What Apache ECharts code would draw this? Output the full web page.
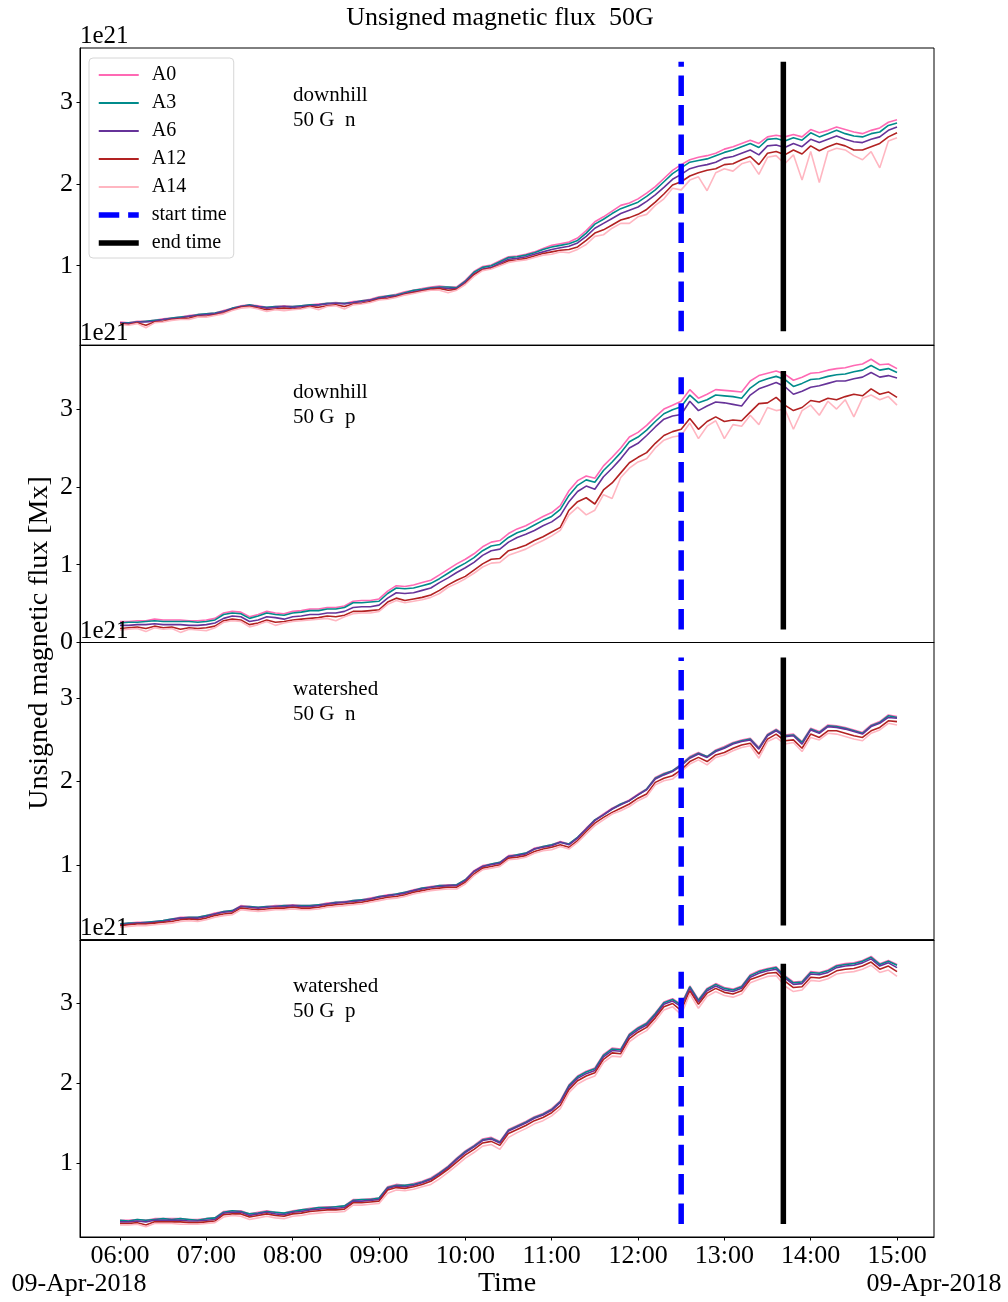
<!DOCTYPE html>
<html>
<head>
<meta charset="utf-8">
<script src="https://cdn.jsdelivr.net/npm/echarts@6/dist/echarts.min.js"></script>
<style>
  html, body { margin: 0; padding: 0; background: #fff; }
  #chart { width: 1008px; height: 1302px; }
</style>
</head>
<body>
<div id="chart"></div>
<script>
// ---- Data: unsigned magnetic flux (units of 1e21 Mx), sampled every 6 minutes from 06:00 to 15:00 ----
const SAMPLE_STEP_MIN = 6;
const TICK_MINUTES = [0, 60, 120, 180, 240, 300, 360, 420, 480, 540];
const TICK_LABELS = ['06:00', '07:00', '08:00', '09:00', '10:00', '11:00', '12:00', '13:00', '14:00', '15:00'];
const DATE_LABEL = '09-Apr-2018';
const START_TIME_MIN = 390;   // 12:30
const END_TIME_MIN = 461;     // 13:41
const SERIES_NAMES = ['A0', 'A3', 'A6', 'A12', 'A14'];
const PANEL_METHODS = ['downhill', 'downhill', 'watershed', 'watershed'];
const PANEL_POLARITIES = ['n', 'p', 'n', 'p'];
const Y_RANGES = [[0.025, 3.67], [0, 3.82], [0.10, 3.67], [0.07, 3.80]];
const Y_TICKS = [[1, 2, 3], [0, 1, 2, 3], [1, 2, 3], [1, 2, 3]];
const START_LINE_SPANS = [[0.196, 3.50], [0.167, 3.41], [0.27, 3.49], [0.233, 3.40]];
const END_LINE_SPANS = [[0.196, 3.50], [0.167, 3.49], [0.27, 3.49], [0.233, 3.50]];

// downhill, negative polarity
const DOWNHILL_N_A0 = [
  0.31,0.30,0.32,0.32,0.33,0.35,0.36,0.37,0.39,0.40,
  0.41,0.42,0.45,0.48,0.51,0.52,0.51,0.49,0.50,0.51,
  0.50,0.51,0.52,0.53,0.54,0.55,0.54,0.56,0.57,0.59,
  0.62,0.63,0.65,0.68,0.70,0.72,0.74,0.75,0.74,0.74,
  0.82,0.93,0.99,1.01,1.06,1.11,1.12,1.14,1.17,1.21,
  1.25,1.27,1.29,1.34,1.43,1.54,1.60,1.67,1.74,1.77,
  1.82,1.89,1.97,2.07,2.17,2.24,2.30,2.33,2.35,2.38,
  2.43,2.46,2.50,2.54,2.50,2.58,2.60,2.58,2.61,2.58,
  2.67,2.63,2.66,2.70,2.67,2.64,2.62,2.66,2.69,2.76,
  2.79];
const DOWNHILL_N_A3 = [
  0.30,0.30,0.31,0.32,0.33,0.34,0.36,0.37,0.38,0.40,
  0.41,0.42,0.44,0.48,0.50,0.52,0.50,0.49,0.50,0.50,
  0.50,0.51,0.52,0.52,0.54,0.54,0.54,0.55,0.57,0.58,
  0.61,0.63,0.64,0.67,0.70,0.71,0.73,0.74,0.74,0.73,
  0.81,0.92,0.98,1.00,1.05,1.10,1.11,1.13,1.16,1.20,
  1.23,1.25,1.27,1.31,1.40,1.51,1.57,1.64,1.70,1.74,
  1.78,1.85,1.93,2.03,2.13,2.20,2.27,2.29,2.31,2.35,
  2.39,2.42,2.46,2.50,2.45,2.55,2.56,2.53,2.57,2.54,
  2.63,2.58,2.62,2.66,2.62,2.59,2.58,2.62,2.64,2.72,
  2.75];
const DOWNHILL_N_A6 = [
  0.30,0.29,0.31,0.31,0.32,0.34,0.35,0.36,0.38,0.39,
  0.40,0.41,0.44,0.47,0.50,0.51,0.50,0.48,0.49,0.50,
  0.49,0.50,0.51,0.52,0.53,0.54,0.53,0.55,0.56,0.58,
  0.60,0.62,0.63,0.66,0.68,0.70,0.72,0.73,0.72,0.72,
  0.80,0.90,0.96,0.98,1.03,1.08,1.09,1.11,1.14,1.17,
  1.20,1.22,1.24,1.28,1.36,1.46,1.52,1.58,1.64,1.68,
  1.72,1.79,1.87,1.96,2.06,2.12,2.19,2.22,2.24,2.27,
  2.32,2.34,2.38,2.42,2.36,2.47,2.48,2.45,2.50,2.46,
  2.55,2.51,2.55,2.59,2.55,2.52,2.51,2.55,2.58,2.66,
  2.70];
const DOWNHILL_N_A12 = [
  0.29,0.28,0.30,0.27,0.31,0.32,0.34,0.35,0.36,0.38,
  0.38,0.40,0.42,0.46,0.49,0.50,0.48,0.46,0.47,0.48,
  0.47,0.48,0.50,0.49,0.51,0.52,0.50,0.53,0.54,0.56,
  0.59,0.60,0.62,0.65,0.67,0.69,0.71,0.72,0.70,0.71,
  0.78,0.89,0.95,0.97,1.01,1.06,1.07,1.09,1.12,1.15,
  1.17,1.19,1.20,1.23,1.31,1.40,1.44,1.50,1.56,1.59,
  1.63,1.69,1.78,1.88,1.99,2.03,2.10,2.14,2.17,2.19,
  2.24,2.25,2.30,2.34,2.24,2.38,2.40,2.36,2.42,2.37,
  2.47,2.41,2.46,2.50,2.47,2.42,2.42,2.46,2.50,2.58,
  2.63];
const DOWNHILL_N_A14 = [
  0.28,0.27,0.29,0.24,0.30,0.31,0.33,0.34,0.34,0.37,
  0.37,0.39,0.41,0.45,0.48,0.49,0.47,0.44,0.46,0.45,
  0.46,0.47,0.49,0.46,0.50,0.51,0.47,0.52,0.53,0.55,
  0.58,0.59,0.61,0.64,0.66,0.68,0.70,0.70,0.67,0.70,
  0.77,0.87,0.94,0.96,1.00,1.04,1.06,1.07,1.10,1.13,
  1.14,1.17,1.16,1.20,1.26,1.36,1.38,1.46,1.52,1.52,
  1.60,1.63,1.74,1.82,1.95,1.93,2.05,2.09,1.92,2.14,
  2.19,2.16,2.25,2.28,2.12,2.33,2.35,2.25,2.36,2.05,
  2.40,2.02,2.40,2.44,2.42,2.35,2.30,2.40,2.20,2.53,
  2.57];

// downhill, positive polarity
const DOWNHILL_P_A0 = [
  0.27,0.27,0.28,0.28,0.30,0.29,0.29,0.29,0.28,0.28,
  0.29,0.31,0.38,0.40,0.39,0.33,0.36,0.40,0.38,0.37,
  0.40,0.41,0.43,0.43,0.45,0.45,0.47,0.53,0.54,0.54,
  0.56,0.66,0.73,0.72,0.74,0.77,0.80,0.87,0.94,1.01,
  1.07,1.14,1.23,1.29,1.31,1.40,1.46,1.50,1.56,1.62,
  1.67,1.76,1.95,2.08,2.14,2.11,2.27,2.38,2.50,2.64,
  2.70,2.79,2.90,3.00,3.05,3.10,3.25,3.14,3.19,3.25,
  3.24,3.23,3.22,3.36,3.43,3.46,3.49,3.45,3.37,3.41,
  3.46,3.47,3.50,3.52,3.53,3.56,3.58,3.64,3.57,3.58,
  3.52];
const DOWNHILL_P_A3 = [
  0.25,0.26,0.26,0.27,0.28,0.27,0.27,0.27,0.27,0.26,
  0.27,0.29,0.36,0.38,0.37,0.31,0.34,0.38,0.36,0.35,
  0.38,0.39,0.41,0.41,0.43,0.43,0.45,0.51,0.51,0.52,
  0.53,0.63,0.70,0.69,0.70,0.73,0.76,0.82,0.89,0.96,
  1.02,1.09,1.18,1.24,1.26,1.35,1.41,1.45,1.51,1.57,
  1.62,1.71,1.89,2.02,2.09,2.06,2.21,2.32,2.44,2.58,
  2.64,2.73,2.84,2.94,2.99,3.03,3.18,3.08,3.12,3.18,
  3.17,3.16,3.14,3.27,3.35,3.39,3.42,3.38,3.29,3.33,
  3.38,3.39,3.42,3.44,3.45,3.48,3.50,3.56,3.50,3.52,
  3.47];
const DOWNHILL_P_A6 = [
  0.22,0.22,0.23,0.23,0.24,0.23,0.23,0.23,0.22,0.22,
  0.23,0.25,0.31,0.34,0.33,0.27,0.29,0.33,0.32,0.30,
  0.33,0.34,0.36,0.36,0.38,0.38,0.40,0.45,0.46,0.46,
  0.48,0.57,0.64,0.63,0.64,0.67,0.70,0.77,0.83,0.90,
  0.96,1.03,1.12,1.18,1.20,1.29,1.35,1.39,1.44,1.50,
  1.55,1.63,1.81,1.94,2.01,1.97,2.13,2.24,2.36,2.50,
  2.56,2.66,2.77,2.87,2.91,2.93,3.10,2.98,3.04,3.09,
  3.08,3.06,3.04,3.18,3.26,3.30,3.34,3.29,3.19,3.23,
  3.28,3.30,3.33,3.36,3.36,3.39,3.41,3.47,3.41,3.43,
  3.40];
const DOWNHILL_P_A12 = [
  0.18,0.19,0.20,0.18,0.21,0.19,0.20,0.17,0.19,0.18,
  0.19,0.21,0.28,0.30,0.29,0.23,0.25,0.29,0.26,0.27,
  0.29,0.30,0.31,0.32,0.34,0.33,0.35,0.40,0.40,0.41,
  0.42,0.52,0.57,0.54,0.56,0.58,0.61,0.67,0.74,0.80,
  0.85,0.93,1.01,1.07,1.08,1.18,1.21,1.25,1.31,1.36,
  1.42,1.48,1.70,1.81,1.86,1.78,1.96,2.05,2.18,2.31,
  2.38,2.44,2.56,2.66,2.71,2.74,2.88,2.74,2.84,2.90,
  2.84,2.86,2.85,2.96,3.07,3.08,3.15,3.05,2.98,3.02,
  3.11,3.09,3.14,3.12,3.16,3.19,3.17,3.26,3.19,3.22,
  3.15];
const DOWNHILL_P_A14 = [
  0.16,0.17,0.18,0.14,0.19,0.17,0.18,0.13,0.17,0.16,
  0.15,0.19,0.26,0.28,0.27,0.20,0.23,0.27,0.22,0.25,
  0.27,0.28,0.29,0.30,0.31,0.28,0.33,0.37,0.38,0.38,
  0.40,0.49,0.54,0.51,0.53,0.55,0.58,0.63,0.71,0.76,
  0.82,0.89,0.97,1.02,1.03,1.12,1.16,1.20,1.26,1.31,
  1.37,1.44,1.64,1.74,1.64,1.70,1.90,1.85,2.12,2.24,
  2.32,2.36,2.50,2.60,2.64,2.66,2.82,2.62,2.78,2.85,
  2.62,2.80,2.78,2.92,2.80,3.02,2.98,3.00,2.74,2.98,
  3.05,2.92,3.10,3.00,3.12,2.90,3.14,3.18,3.12,3.16,
  3.05];

// watershed, negative polarity
const WATERSHED_N_A0 = [
  0.29,0.30,0.31,0.31,0.32,0.33,0.35,0.37,0.37,0.37,
  0.39,0.42,0.44,0.45,0.51,0.50,0.49,0.50,0.51,0.51,
  0.52,0.51,0.51,0.52,0.54,0.55,0.56,0.57,0.58,0.60,
  0.62,0.64,0.65,0.67,0.70,0.72,0.74,0.75,0.76,0.76,
  0.82,0.93,0.99,1.01,1.03,1.11,1.12,1.14,1.20,1.22,
  1.24,1.28,1.25,1.33,1.44,1.54,1.61,1.68,1.73,1.78,
  1.85,1.91,2.05,2.10,2.13,2.21,2.30,2.35,2.30,2.38,
  2.42,2.47,2.50,2.52,2.41,2.57,2.63,2.56,2.57,2.48,
  2.64,2.60,2.68,2.67,2.65,2.62,2.59,2.68,2.72,2.80,
  2.78];
const WATERSHED_N_A3 = [
  0.29,0.30,0.30,0.31,0.32,0.33,0.35,0.36,0.37,0.37,
  0.39,0.41,0.44,0.45,0.50,0.50,0.49,0.50,0.50,0.51,
  0.51,0.51,0.51,0.52,0.53,0.55,0.55,0.57,0.58,0.59,
  0.62,0.63,0.65,0.67,0.69,0.72,0.73,0.75,0.75,0.76,
  0.82,0.92,0.98,1.01,1.03,1.10,1.12,1.14,1.19,1.22,
  1.24,1.27,1.25,1.33,1.43,1.54,1.60,1.67,1.73,1.77,
  1.84,1.91,2.04,2.09,2.13,2.20,2.29,2.34,2.30,2.37,
  2.41,2.46,2.49,2.51,2.40,2.56,2.62,2.55,2.56,2.47,
  2.63,2.59,2.67,2.66,2.64,2.61,2.58,2.67,2.71,2.79,
  2.77];
const WATERSHED_N_A6 = [
  0.28,0.29,0.30,0.30,0.31,0.32,0.34,0.36,0.36,0.36,
  0.38,0.41,0.43,0.44,0.50,0.49,0.48,0.49,0.50,0.50,
  0.51,0.50,0.50,0.51,0.53,0.54,0.55,0.56,0.57,0.59,
  0.61,0.63,0.64,0.66,0.69,0.71,0.73,0.74,0.75,0.75,
  0.81,0.92,0.98,1.00,1.02,1.10,1.11,1.13,1.19,1.21,
  1.23,1.27,1.24,1.32,1.43,1.53,1.60,1.67,1.72,1.77,
  1.84,1.90,2.03,2.08,2.12,2.19,2.28,2.33,2.29,2.36,
  2.40,2.45,2.48,2.50,2.39,2.55,2.61,2.54,2.55,2.45,
  2.62,2.58,2.66,2.65,2.63,2.60,2.57,2.66,2.70,2.77,
  2.76];
const WATERSHED_N_A12 = [
  0.27,0.28,0.29,0.29,0.30,0.31,0.32,0.34,0.35,0.34,
  0.36,0.39,0.41,0.42,0.48,0.47,0.46,0.47,0.48,0.48,
  0.49,0.48,0.48,0.49,0.51,0.52,0.53,0.54,0.55,0.57,
  0.59,0.61,0.62,0.64,0.67,0.69,0.71,0.72,0.73,0.73,
  0.79,0.89,0.96,0.98,1.00,1.08,1.09,1.11,1.16,1.19,
  1.21,1.24,1.21,1.29,1.40,1.50,1.57,1.63,1.68,1.73,
  1.80,1.85,1.99,2.04,2.07,2.14,2.24,2.29,2.24,2.32,
  2.35,2.40,2.44,2.46,2.33,2.51,2.57,2.49,2.50,2.40,
  2.57,2.53,2.61,2.61,2.58,2.55,2.53,2.61,2.65,2.73,
  2.72];
const WATERSHED_N_A14 = [
  0.25,0.26,0.27,0.27,0.28,0.29,0.30,0.32,0.33,0.32,
  0.34,0.37,0.39,0.40,0.46,0.45,0.44,0.45,0.46,0.46,
  0.47,0.46,0.46,0.47,0.49,0.50,0.51,0.52,0.53,0.55,
  0.57,0.59,0.60,0.62,0.65,0.67,0.69,0.70,0.71,0.71,
  0.77,0.87,0.94,0.96,0.98,1.06,1.07,1.09,1.14,1.17,
  1.18,1.22,1.19,1.27,1.37,1.47,1.54,1.61,1.65,1.70,
  1.77,1.82,1.96,2.01,2.03,2.12,2.21,2.26,2.20,2.29,
  2.32,2.37,2.41,2.43,2.28,2.48,2.53,2.45,2.47,2.36,
  2.53,2.50,2.58,2.57,2.54,2.51,2.49,2.58,2.62,2.70,
  2.68];

// watershed, positive polarity
const WATERSHED_P_A0 = [
  0.28,0.28,0.29,0.28,0.30,0.30,0.30,0.30,0.29,0.29,
  0.30,0.31,0.39,0.40,0.40,0.36,0.38,0.40,0.38,0.37,
  0.40,0.41,0.43,0.44,0.45,0.45,0.46,0.54,0.54,0.55,
  0.56,0.70,0.73,0.72,0.74,0.77,0.81,0.88,0.96,1.06,
  1.15,1.22,1.30,1.32,1.27,1.42,1.47,1.52,1.58,1.62,
  1.68,1.78,1.98,2.09,2.15,2.19,2.36,2.44,2.43,2.62,
  2.70,2.76,2.88,3.02,3.06,2.99,3.22,3.05,3.19,3.25,
  3.20,3.18,3.22,3.36,3.41,3.44,3.46,3.35,3.27,3.28,
  3.40,3.39,3.42,3.48,3.50,3.51,3.54,3.59,3.50,3.54,
  3.49];
const WATERSHED_P_A3 = [
  0.28,0.27,0.29,0.28,0.29,0.30,0.29,0.30,0.29,0.28,
  0.30,0.31,0.38,0.40,0.39,0.36,0.37,0.39,0.38,0.37,
  0.39,0.41,0.42,0.44,0.44,0.45,0.46,0.53,0.54,0.54,
  0.56,0.69,0.72,0.72,0.73,0.76,0.80,0.87,0.95,1.05,
  1.14,1.21,1.29,1.31,1.26,1.41,1.46,1.51,1.57,1.61,
  1.67,1.77,1.97,2.08,2.14,2.18,2.35,2.43,2.42,2.61,
  2.69,2.75,2.87,3.01,3.05,2.98,3.21,3.04,3.18,3.24,
  3.19,3.17,3.21,3.35,3.40,3.43,3.45,3.34,3.26,3.27,
  3.39,3.38,3.41,3.47,3.49,3.50,3.53,3.58,3.49,3.53,
  3.48];
const WATERSHED_P_A6 = [
  0.26,0.26,0.27,0.26,0.28,0.28,0.28,0.28,0.27,0.27,
  0.28,0.29,0.37,0.38,0.38,0.34,0.36,0.38,0.36,0.35,
  0.38,0.39,0.41,0.42,0.43,0.43,0.44,0.52,0.52,0.53,
  0.54,0.68,0.71,0.70,0.72,0.75,0.79,0.86,0.94,1.04,
  1.13,1.20,1.28,1.30,1.25,1.40,1.45,1.50,1.56,1.60,
  1.66,1.76,1.95,2.06,2.12,2.16,2.33,2.41,2.40,2.59,
  2.67,2.73,2.85,2.99,3.03,2.96,3.19,3.02,3.16,3.22,
  3.17,3.15,3.19,3.33,3.38,3.41,3.43,3.32,3.24,3.25,
  3.37,3.36,3.39,3.45,3.47,3.48,3.51,3.56,3.47,3.51,
  3.45];
const WATERSHED_P_A12 = [
  0.24,0.24,0.25,0.22,0.26,0.26,0.26,0.26,0.25,0.25,
  0.26,0.27,0.35,0.36,0.36,0.32,0.34,0.36,0.34,0.33,
  0.36,0.37,0.39,0.40,0.41,0.41,0.42,0.50,0.50,0.51,
  0.52,0.66,0.69,0.68,0.70,0.73,0.77,0.84,0.92,1.01,
  1.10,1.17,1.25,1.27,1.22,1.37,1.42,1.47,1.53,1.57,
  1.63,1.72,1.92,2.03,2.09,2.13,2.30,2.38,2.37,2.56,
  2.64,2.70,2.82,2.96,3.00,2.91,3.16,2.99,3.13,3.19,
  3.14,3.12,3.16,3.30,3.34,3.38,3.39,3.28,3.20,3.21,
  3.33,3.32,3.35,3.41,3.43,3.44,3.47,3.52,3.43,3.47,
  3.40];
const WATERSHED_P_A14 = [
  0.22,0.22,0.23,0.20,0.24,0.24,0.24,0.23,0.23,0.23,
  0.24,0.25,0.32,0.34,0.33,0.29,0.31,0.33,0.31,0.30,
  0.33,0.34,0.36,0.37,0.38,0.38,0.39,0.47,0.47,0.48,
  0.49,0.62,0.66,0.65,0.67,0.70,0.73,0.80,0.88,0.97,
  1.06,1.13,1.21,1.23,1.17,1.32,1.38,1.43,1.49,1.53,
  1.59,1.68,1.88,1.99,2.05,2.09,2.26,2.34,2.33,2.52,
  2.60,2.66,2.78,2.92,2.96,2.86,3.12,2.94,3.09,3.15,
  3.10,3.08,3.12,3.26,3.30,3.34,3.35,3.22,3.15,3.17,
  3.29,3.28,3.31,3.37,3.39,3.40,3.43,3.48,3.39,3.42,
  3.34];

const PANEL_DATA = [
  [DOWNHILL_N_A0, DOWNHILL_N_A3, DOWNHILL_N_A6, DOWNHILL_N_A12, DOWNHILL_N_A14],
  [DOWNHILL_P_A0, DOWNHILL_P_A3, DOWNHILL_P_A6, DOWNHILL_P_A12, DOWNHILL_P_A14],
  [WATERSHED_N_A0, WATERSHED_N_A3, WATERSHED_N_A6, WATERSHED_N_A12, WATERSHED_N_A14],
  [WATERSHED_P_A0, WATERSHED_P_A3, WATERSHED_P_A6, WATERSHED_P_A12, WATERSHED_P_A14]
];

// ---- Styling / layout ----
const FONT = '"Liberation Serif", "DejaVu Serif", serif';
const COLORS = ['#ff69b4', '#008b8b', '#663399', '#b22222', '#ffb6c1'];
const START_COLOR = '#0000ff';
const END_COLOR = '#000000';
const MARKER_LINE_WIDTH = 5.5;
const START_DASH = [20.5, 8.9];
const PLOT_LEFT = 80;
const PLOT_WIDTH = 854;
const PANEL_TOPS = [48, 345.25, 642.5, 939.75];
const PANEL_HEIGHT = 297.25;
const X_MIN = -27.8;
const X_MAX = 565.7;

const minutes = PANEL_DATA[0][0].map((_, i) => i * SAMPLE_STEP_MIN);

const grids = [], xAxes = [], yAxes = [], series = [], graphics = [];

PANEL_DATA.forEach((panel, p) => {
  const top = PANEL_TOPS[p];
  const isBottom = p === PANEL_DATA.length - 1;
  grids.push({
    left: PLOT_LEFT, width: PLOT_WIDTH, top: top, height: PANEL_HEIGHT,
    show: true, borderColor: '#000', borderWidth: 1, backgroundColor: 'transparent'
  });
  xAxes.push({
    gridIndex: p, type: 'value', min: X_MIN, max: X_MAX,
    axisLine: { show: true, onZero: false, lineStyle: { color: '#000', width: 1 } },
    axisTick: { show: isBottom, length: 3.5, inside: false, customValues: TICK_MINUTES, lineStyle: { color: '#000' } },
    axisLabel: {
      show: isBottom, customValues: TICK_MINUTES, margin: 6,
      fontFamily: FONT, fontSize: 26, color: '#000',
      formatter: v => TICK_LABELS[TICK_MINUTES.indexOf(v)] || ''
    },
    splitLine: { show: false }
  });
  yAxes.push({
    gridIndex: p, type: 'value', min: Y_RANGES[p][0], max: Y_RANGES[p][1],
    axisLine: { show: true, onZero: false, lineStyle: { color: '#000', width: 1 } },
    axisTick: { show: true, length: 3.5, inside: false, customValues: Y_TICKS[p], lineStyle: { color: '#000' } },
    axisLabel: {
      customValues: Y_TICKS[p], margin: 7,
      fontFamily: FONT, fontSize: 26, color: '#000',
      formatter: v => String(v)
    },
    splitLine: { show: false }
  });

  panel.forEach((vals, k) => {
    series.push({
      name: SERIES_NAMES[k], type: 'line', xAxisIndex: p, yAxisIndex: p,
      data: vals.map((v, i) => [minutes[i], v]),
      symbol: 'none', showSymbol: false, silent: true, z: 2,
      lineStyle: { color: COLORS[k], width: 1.6 },
      itemStyle: { color: COLORS[k] },
      emphasis: { disabled: true }
    });
  });
  series.push({
    name: 'start time', type: 'line', xAxisIndex: p, yAxisIndex: p,
    data: [[START_TIME_MIN, START_LINE_SPANS[p][0]], [START_TIME_MIN, START_LINE_SPANS[p][1]]],
    symbol: 'none', showSymbol: false, silent: true, z: 3,
    lineStyle: { color: START_COLOR, width: MARKER_LINE_WIDTH, type: START_DASH, cap: 'butt' },
    itemStyle: { color: START_COLOR },
    emphasis: { disabled: true }
  });
  series.push({
    name: 'end time', type: 'line', xAxisIndex: p, yAxisIndex: p,
    data: [[END_TIME_MIN, END_LINE_SPANS[p][0]], [END_TIME_MIN, END_LINE_SPANS[p][1]]],
    symbol: 'none', showSymbol: false, silent: true, z: 3,
    lineStyle: { color: END_COLOR, width: MARKER_LINE_WIDTH, type: 'solid', cap: 'butt' },
    itemStyle: { color: END_COLOR },
    emphasis: { disabled: true }
  });

  // scale multiplier above each panel
  graphics.push({
    type: 'text', x: PLOT_LEFT, y: top + 1, z: 10,
    style: { text: '1e21', font: '25px ' + FONT, fill: '#000', textAlign: 'left', textVerticalAlign: 'bottom' }
  });
  // method / threshold / polarity note
  graphics.push({
    type: 'text', x: 293, y: top + 47, z: 10,
    style: { text: PANEL_METHODS[p], font: '21px ' + FONT, fill: '#000', textAlign: 'left', textVerticalAlign: 'middle' }
  });
  graphics.push({
    type: 'text', x: 293, y: top + 72, z: 10,
    style: { text: '50 G  ' + PANEL_POLARITIES[p], font: '21px ' + FONT, fill: '#000', textAlign: 'left', textVerticalAlign: 'middle' }
  });
});

// figure title, axis titles and date stamps
graphics.push({
  type: 'text', x: 500, y: 18, z: 10,
  style: { text: 'Unsigned magnetic flux  50G', font: '26px ' + FONT, fill: '#000', textAlign: 'center', textVerticalAlign: 'middle' }
});
graphics.push({
  type: 'text', x: 40, y: 643, rotation: Math.PI / 2, z: 10,
  style: { text: 'Unsigned magnetic flux [Mx]', font: '28px ' + FONT, fill: '#000', textAlign: 'center', textVerticalAlign: 'middle' }
});
graphics.push({
  type: 'text', x: PLOT_LEFT + PLOT_WIDTH / 2, y: 1284, z: 10,
  style: { text: 'Time', font: '28px ' + FONT, fill: '#000', textAlign: 'center', textVerticalAlign: 'middle' }
});
graphics.push({
  type: 'text', x: PLOT_LEFT - 1, y: 1284, z: 10,
  style: { text: DATE_LABEL, font: '26px ' + FONT, fill: '#000', textAlign: 'center', textVerticalAlign: 'middle' }
});
graphics.push({
  type: 'text', x: PLOT_LEFT + PLOT_WIDTH, y: 1284, z: 10,
  style: { text: DATE_LABEL, font: '26px ' + FONT, fill: '#000', textAlign: 'center', textVerticalAlign: 'middle' }
});

// legend entries: thin lines for the areas, thick lines for the time markers
const legendData = SERIES_NAMES.map(name => ({ name: name, lineStyle: { width: 2 } }))
  .concat([
    { name: 'start time', lineStyle: { width: MARKER_LINE_WIDTH, type: START_DASH } },
    { name: 'end time', lineStyle: { width: MARKER_LINE_WIDTH } }
  ]);

const chart = echarts.init(document.getElementById('chart'), null, { renderer: 'canvas' });
chart.setOption({
  animation: false,
  backgroundColor: '#fff',
  grid: grids,
  xAxis: xAxes,
  yAxis: yAxes,
  series: series,
  legend: {
    data: legendData,
    orient: 'vertical', left: 89, top: 58,
    padding: [7, 7, 5, 7], itemGap: 8, itemWidth: 40, itemHeight: 14,
    backgroundColor: 'rgba(255,255,255,0.8)', borderColor: '#d6d6d6', borderWidth: 1, borderRadius: 4,
    selectedMode: false,
    itemStyle: { opacity: 0 },
    textStyle: { fontFamily: FONT, fontSize: 20, color: '#000', lineHeight: 20, padding: [0, 0, 0, 8] }
  },
  graphic: graphics
});
</script>
</body>
</html>
